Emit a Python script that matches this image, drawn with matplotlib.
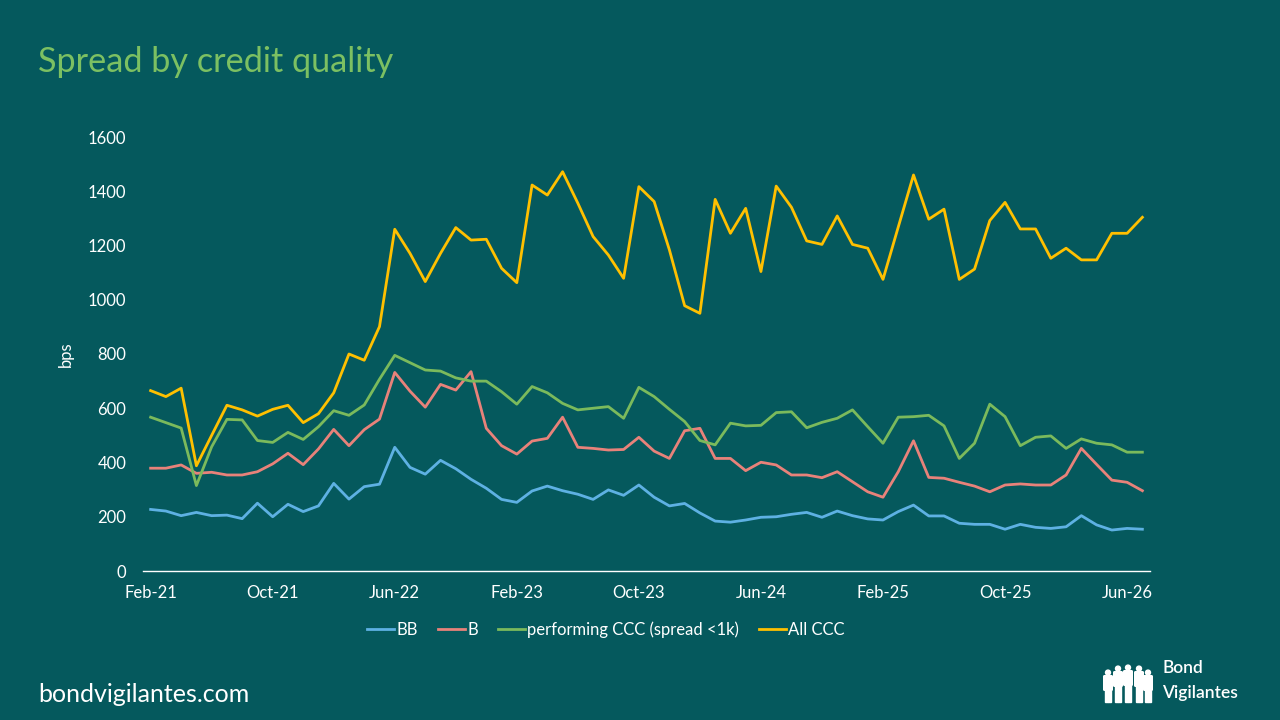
import matplotlib.pyplot as plt
from matplotlib.patches import Circle, FancyBboxPatch, Rectangle
import numpy as np

# monthly points, Feb-21 onwards
bb = [227, 221, 204, 216, 204, 206, 193, 250, 200, 246, 219, 240, 323, 265, 311, 320,
      456, 382, 357, 408, 377, 338, 305, 264, 253, 295, 313, 296, 283, 264, 299, 279,
      317, 272, 240, 249, 214, 184, 180, 188, 198, 200, 209, 216, 198, 221, 204, 192,
      188, 219, 243, 203, 203, 176, 172, 172, 154, 172, 161, 157, 163, 204, 170, 151,
      157, 154]
b = [379, 379, 391, 360, 364, 354, 354, 366, 395, 434, 392, 450, 522, 462, 521, 560,
     732, 663, 604, 688, 667, 735, 526, 462, 431, 479, 489, 567, 456, 452, 446, 448,
     493, 442, 415, 517, 526, 415, 415, 370, 401, 391, 354, 354, 344, 366, 329, 292,
     272, 366, 480, 345, 342, 327, 313, 292, 317, 321, 317, 317, 354, 452, 393, 335,
     327, 296]
perf_ccc = [567, 547, 527, 315, 458, 559, 557, 481, 474, 511, 485, 532, 591, 574, 612, 707,
            795, 768, 741, 737, 712, 700, 700, 661, 615, 680, 657, 618, 594, 600, 606, 563,
            677, 643, 596, 551, 481, 465, 545, 535, 537, 584, 587, 528, 548, 563, 594, 532,
            471, 567, 569, 574, 535, 415, 471, 615, 569, 462, 493, 498, 452, 487, 471, 465,
            438, 438]
all_ccc = [665, 643, 674, 388, 500, 611, 594, 571, 596, 611, 547, 580, 657, 800, 777, 901,
           1260, 1171, 1067, 1171, 1266, 1220, 1223, 1116, 1063, 1423, 1386, 1472, 1356, 1233, 1165, 1079,
           1417, 1362, 1184, 978, 950, 1370, 1245, 1337, 1104, 1419, 1341, 1217, 1204, 1309, 1204, 1190,
           1075, 1268, 1460, 1297, 1334, 1075, 1113, 1292, 1359, 1261, 1261, 1153, 1190, 1147, 1147, 1245,
           1245, 1304]
tick_labels = ["Feb-21", "Oct-21", "Jun-22", "Feb-23", "Oct-23",
               "Jun-24", "Feb-25", "Oct-25", "Jun-26"]

BG = '#05595D'
FONT = 'Lato'

fig = plt.figure(figsize=(12.8, 7.2), dpi=100, facecolor=BG)
ax = fig.add_axes([143 / 1280, 1 - 571 / 720, 1007 / 1280, 434 / 720])
ax.set_facecolor(BG)

x = np.arange(len(all_ccc))
lw = 2.0
ax.plot(x, bb, color='#5EB1E3', lw=lw, label='BB')
ax.plot(x, b, color='#E8827A', lw=lw, label='B')
ax.plot(x, perf_ccc, color='#7BBA5C', lw=lw, label='performing CCC (spread <1k)')
ax.plot(x, all_ccc, color='#FFC000', lw=lw, label='All CCC')

ax.set_xlim(-0.5, len(x) - 0.5)
ax.set_ylim(0, 1600)
ax.set_yticks(range(0, 1601, 200))
ax.set_xticks(np.arange(0, len(x), 8))
ax.set_xticklabels(tick_labels)

for s in ['top', 'right', 'left']:
    ax.spines[s].set_visible(False)
ax.spines['bottom'].set_color('white')
ax.spines['bottom'].set_linewidth(1.0)
ax.tick_params(axis='both', length=0, colors='white', labelsize=12)
ax.tick_params(axis='y', pad=12)
ax.tick_params(axis='x', pad=10)
for lab in ax.get_xticklabels() + ax.get_yticklabels():
    lab.set_fontfamily(FONT)

ax.set_ylabel('bps', color='white', fontsize=12, family=FONT)
ax.yaxis.set_label_coords(-0.0685, 0.5)

leg = fig.legend(loc='center', bbox_to_anchor=(606 / 1280, 1 - 630 / 720), ncol=4,
                 frameon=False, handlelength=1.6, handletextpad=0.15,
                 columnspacing=1.2, prop={'family': FONT, 'size': 12})
for t in leg.get_texts():
    t.set_color('white')

fig.text(38 / 1280, 1 - 62 / 720, 'Spread by credit quality', color='#7CC062',
         fontsize=24.7, family=FONT, va='center', ha='left')
fig.text(38 / 1280, 1 - 694 / 720, 'bondvigilantes.com', color='white',
         fontsize=18, family=FONT, va='center', ha='left')

# logo: little crowd of people + name (pixel coords inside a small axes)
lax = fig.add_axes([1098 / 1280, 1 - 706 / 720, 60 / 1280, 46 / 720])
lax.set_xlim(1098, 1158)
lax.set_ylim(706, 660)
lax.axis('off')
people = [(1108, 670), (1118, 666), (1128, 665), (1139, 666), (1148, 670)]
for px, top in people:
    lax.add_patch(Circle((px, top + 2.6), 2.5, color='white'))
    lax.add_patch(FancyBboxPatch((px - 3.5, top + 6.5), 7, 13,
                                 boxstyle='round,pad=0.8', color='white'))
    lax.add_patch(Rectangle((px - 3.0, top + 18), 2.6, 702 - top - 18, color='white'))
    lax.add_patch(Rectangle((px + 0.4, top + 18), 2.6, 702 - top - 18, color='white'))
fig.text(1162 / 1280, 1 - 668 / 720, 'Bond', color='white', fontsize=12.5,
         family=FONT, weight='semibold', va='center', ha='left')
fig.text(1162 / 1280, 1 - 693 / 720, 'Vigilantes', color='white', fontsize=12.5,
         family=FONT, weight='semibold', va='center', ha='left')

fig.savefig('out.png', dpi=100, facecolor=BG)
